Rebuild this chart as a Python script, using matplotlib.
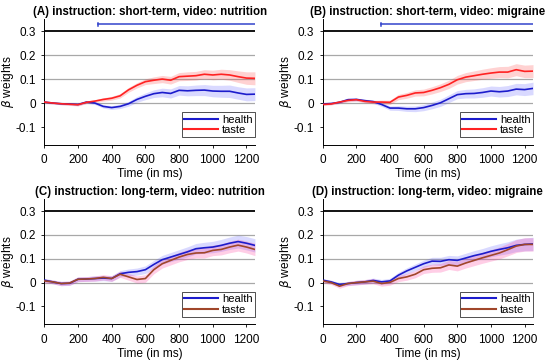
import numpy as np
import matplotlib
matplotlib.use("Agg")
import matplotlib.pyplot as plt

plt.rcParams['font.family'] = ['Liberation Sans', 'DejaVu Sans']

time_ms = np.arange(0, 1251, 50)

titles = ["(A) instruction: short-term, video: nutrition",
          "(B) instruction: short-term, video: migraine",
          "(C) instruction: long-term, video: nutrition",
          "(D) instruction: long-term, video: migraine"]

health_A = [0.004, 0.0, -0.003, -0.004, -0.006, 0.004, 0.0, -0.014, -0.019, -0.014, -0.003, 0.015, 0.028,
            0.039, 0.044, 0.040, 0.053, 0.051, 0.053, 0.054, 0.050, 0.049, 0.049, 0.042, 0.036, 0.037]
taste_A = [0.004, 0.0, -0.003, -0.005, -0.007, 0.003, 0.008, 0.015, 0.020, 0.030, 0.055, 0.074, 0.089,
           0.095, 0.100, 0.095, 0.110, 0.112, 0.114, 0.120, 0.117, 0.120, 0.117, 0.110, 0.104, 0.103]
health_sem_A = [0.004, 0.004, 0.004, 0.005, 0.005, 0.005, 0.006, 0.007, 0.008, 0.009, 0.010, 0.012, 0.014,
                0.016, 0.018, 0.019, 0.020, 0.021, 0.022, 0.023, 0.024, 0.025, 0.026, 0.026, 0.027, 0.027]
taste_sem_A = [0.004, 0.004, 0.004, 0.005, 0.005, 0.005, 0.006, 0.007, 0.008, 0.009, 0.010, 0.011, 0.012,
               0.014, 0.015, 0.016, 0.017, 0.018, 0.018, 0.019, 0.020, 0.021, 0.022, 0.024, 0.026, 0.027]

health_B = [-0.004, -0.002, 0.003, 0.014, 0.015, 0.010, 0.006, -0.006, -0.021, -0.021, -0.024, -0.024, -0.019,
            -0.010, 0.001, 0.018, 0.035, 0.039, 0.040, 0.044, 0.050, 0.047, 0.050, 0.058, 0.056, 0.061]
taste_B = [-0.006, -0.004, 0.004, 0.011, 0.014, 0.007, 0.004, 0.004, 0.003, 0.025, 0.032, 0.042, 0.044,
           0.053, 0.064, 0.078, 0.097, 0.108, 0.114, 0.120, 0.125, 0.129, 0.129, 0.139, 0.132, 0.133]
health_sem_B = [0.004, 0.004, 0.005, 0.006, 0.006, 0.006, 0.007, 0.008, 0.009, 0.010, 0.011, 0.012, 0.013,
                0.014, 0.015, 0.016, 0.017, 0.018, 0.019, 0.020, 0.021, 0.022, 0.023, 0.024, 0.025, 0.026]
taste_sem_B = [0.004, 0.004, 0.005, 0.006, 0.006, 0.006, 0.007, 0.008, 0.009, 0.011, 0.012, 0.013, 0.014,
               0.015, 0.016, 0.017, 0.018, 0.019, 0.020, 0.021, 0.022, 0.023, 0.024, 0.025, 0.026, 0.027]

health_C = [0.010, 0.003, -0.004, -0.003, 0.014, 0.015, 0.017, 0.019, 0.017, 0.037, 0.043, 0.046, 0.054,
            0.076, 0.096, 0.107, 0.118, 0.129, 0.142, 0.146, 0.149, 0.156, 0.165, 0.172, 0.165, 0.156]
taste_C = [0.007, 0.003, -0.004, -0.002, 0.014, 0.015, 0.017, 0.022, 0.017, 0.035, 0.024, 0.013, 0.017,
           0.054, 0.079, 0.093, 0.107, 0.118, 0.124, 0.125, 0.135, 0.139, 0.149, 0.157, 0.149, 0.139]
health_sem_C = [0.008, 0.008, 0.009, 0.009, 0.010, 0.010, 0.011, 0.011, 0.012, 0.013, 0.014, 0.015, 0.016,
                0.017, 0.018, 0.019, 0.020, 0.021, 0.022, 0.023, 0.024, 0.025, 0.026, 0.027, 0.028, 0.028]
taste_sem_C = [0.008, 0.008, 0.009, 0.009, 0.010, 0.010, 0.011, 0.011, 0.012, 0.013, 0.014, 0.015, 0.016,
               0.017, 0.018, 0.019, 0.020, 0.021, 0.021, 0.022, 0.022, 0.023, 0.024, 0.025, 0.025, 0.026]

health_D = [0.010, 0.003, -0.008, -0.004, 0.000, 0.003, 0.009, 0.003, 0.007, 0.031, 0.049, 0.064, 0.079,
            0.090, 0.089, 0.096, 0.093, 0.103, 0.113, 0.121, 0.131, 0.139, 0.146, 0.156, 0.160, 0.162]
taste_D = [0.007, 0.000, -0.015, -0.004, 0.000, 0.003, 0.006, -0.004, 0.001, 0.017, 0.024, 0.035, 0.054,
           0.060, 0.062, 0.074, 0.069, 0.082, 0.093, 0.104, 0.114, 0.124, 0.138, 0.153, 0.160, 0.160]
health_sem_D = [0.007, 0.007, 0.008, 0.008, 0.009, 0.009, 0.010, 0.010, 0.011, 0.012, 0.013, 0.014, 0.015,
                0.016, 0.017, 0.018, 0.019, 0.020, 0.021, 0.022, 0.023, 0.024, 0.025, 0.026, 0.027, 0.028]
taste_sem_D = [0.008, 0.008, 0.009, 0.009, 0.010, 0.010, 0.011, 0.011, 0.012, 0.013, 0.014, 0.015, 0.016,
               0.017, 0.018, 0.019, 0.020, 0.021, 0.022, 0.023, 0.024, 0.025, 0.026, 0.027, 0.028, 0.028]

sig_start = [317, 345, None, None]
sig_level = 0.328

health = [health_A, health_B, health_C, health_D]
taste = [taste_A, taste_B, taste_C, taste_D]
health_sem = [health_sem_A, health_sem_B, health_sem_C, health_sem_D]
taste_sem = [taste_sem_A, taste_sem_B, taste_sem_C, taste_sem_D]

yticks = [-0.1, 0, 0.1, 0.2, 0.3]
ytick_labels = ["-0.1", "0", "0.1", "0.2", "0.3"]
xticks = [0, 200, 400, 600, 800, 1000, 1200]

blue = '#1c1ccc'
red = '#ff2222'
brown = '#a0462a'
taste_line = [red, red, brown, brown]
taste_fill = ['#ff4444', '#ff4444', '#ff3399', '#ff3399']

fig = plt.figure(figsize=(5.5, 3.64), dpi=100)
positions = [[0.0805, 0.6016, 0.383, 0.346],
             [0.5867, 0.6016, 0.3824, 0.346],
             [0.0805, 0.109, 0.383, 0.344],
             [0.5867, 0.109, 0.3824, 0.344]]

for i in range(4):
    ax = fig.add_axes(positions[i])
    t = time_ms
    h = np.array(health[i]); hs = np.array(health_sem[i])
    s = np.array(taste[i]); ss = np.array(taste_sem[i])
    for yv in [0, 0.1, 0.2]:
        ax.axhline(yv, color='#a8a8a8', lw=0.9, zorder=1)
    ax.axhline(0.3, color='black', lw=1.3, zorder=1)
    ax.fill_between(t, h - hs, h + hs, color='#5555ff', alpha=0.22, lw=0, zorder=2)
    ax.fill_between(t, s - ss, s + ss, color=taste_fill[i], alpha=0.24, lw=0, zorder=2)
    ax.plot(t, h, color=blue, lw=1.2, label='health', zorder=3)
    ax.plot(t, s, color=taste_line[i], lw=1.2, label='taste', zorder=4)
    if sig_start[i] is not None:
        ax.plot([sig_start[i], 1250], [sig_level, sig_level], color='#3344cc', lw=1.1, zorder=3)
        ax.plot([sig_start[i], sig_start[i]], [sig_level - 0.007, sig_level + 0.007], color='#3344cc', lw=1.1, zorder=3)
    ax.set_xlim(0, 1250)
    ax.set_ylim(-0.175, 0.35)
    ax.set_yticks(yticks)
    ax.set_yticklabels(ytick_labels)
    ax.set_xticks(xticks)
    ax.tick_params(direction='out', length=2.5, width=0.6, labelsize=8.5)
    ax.tick_params(axis='x', pad=4.2)
    ax.tick_params(axis='y', pad=3.5)
    for sp in ['top', 'right']:
        ax.spines[sp].set_visible(False)
    for sp in ['left', 'bottom']:
        ax.spines[sp].set_linewidth(0.7)
    ax.set_title(titles[i], fontsize=8.3, fontweight='bold', pad=3)
    ax.set_xlabel('Time (in ms)', fontsize=8.6, labelpad=1.5)
    ax.set_ylabel(r'$\beta$ weights', fontsize=8.6, labelpad=0)
    leg = ax.legend(loc='lower right', bbox_to_anchor=(1.0, 0.06), fontsize=8, handlelength=3.0,
                    frameon=True, fancybox=False, edgecolor='black', borderpad=0.2,
                    labelspacing=0.05, handletextpad=0.4, borderaxespad=0)
    leg.get_frame().set_linewidth(0.6)
    for ln in leg.get_lines():
        ln.set_linewidth(1.5)

fig.savefig('out.png', dpi=100)
